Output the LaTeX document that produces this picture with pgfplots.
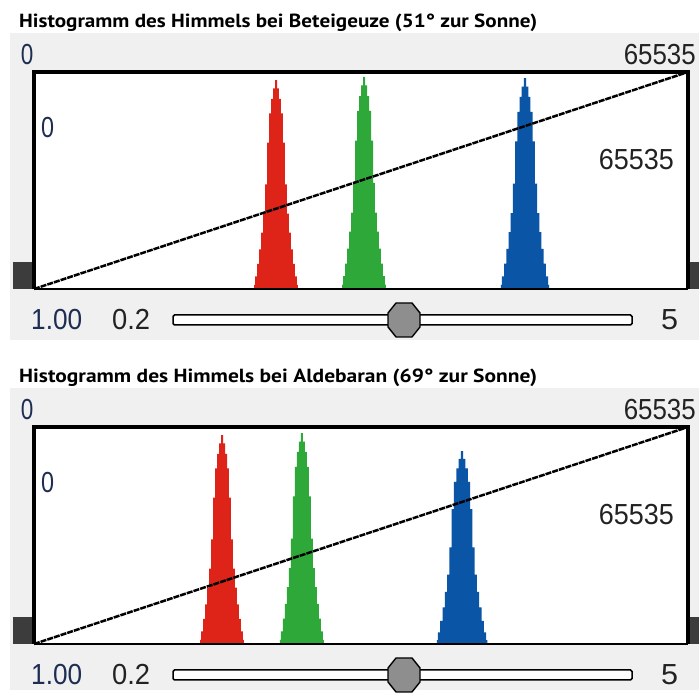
\documentclass[border=0pt]{standalone}
\usepackage{pgfplots}
\pgfplotsset{compat=1.18}
\usepackage{fontspec}
\setmainfont{Liberation Sans}
\newfontfamily\titlefont{PT Sans}
\definecolor{panel}{HTML}{F0F0F0}
\definecolor{hred}{HTML}{DE2318}
\definecolor{hgreen}{HTML}{2FA83A}
\definecolor{hblue}{HTML}{0A55A6}
\definecolor{digitnavy}{HTML}{1E2E52}
\definecolor{digitdark}{HTML}{222222}
\definecolor{squaregray}{HTML}{3C3C3C}
\definecolor{knobgray}{HTML}{8E8E8E}

\pgfplotsset{
  histo/.style={scale only axis, width=654pt, height=217pt,
    xmin=0, xmax=65535, ymin=0, ymax=1, ticks=none,
    axis line style={draw=none},
    axis background/.style={fill=white}, anchor=south west, clip=false},
  peak/.style={draw=none, const plot mark mid, forget plot},
  diag/.style={black, line width=2.5pt, dash pattern=on 6pt off 1pt},
}
\newcommand{\digits}[2]{\fontsize{29pt}{30pt}\selectfont\resizebox{#1}{\height}{#2}}
\newcommand{\frameit}{%
  \draw[black, line width=2.6pt] (rel axis cs:0,0) -- (rel axis cs:1,0);
  \draw[black, line width=3.2pt] (rel axis cs:0,0) -- (rel axis cs:0,1) -- (rel axis cs:1,1) -- (rel axis cs:1,0);}

% ---- top panel (Beteigeuze) ----
\pgfplotstableread{
x y
22050 0.019
22250 0.058
22450 0.116
22650 0.183
22850 0.260
23050 0.347
23250 0.482
23450 0.674
23650 0.809
23850 0.876
24050 0.924
24250 0.963
24450 0.924
24650 0.876
24850 0.809
25050 0.674
25250 0.482
25450 0.347
25650 0.260
25850 0.183
26050 0.116
26250 0.058
26450 0.019
}\topred
\pgfplotstableread{
x y
30870 0.020
31070 0.059
31270 0.117
31470 0.186
31670 0.264
31870 0.352
32070 0.489
32270 0.684
32470 0.821
32670 0.889
32870 0.938
33070 0.977
33270 0.938
33470 0.889
33670 0.821
33870 0.684
34070 0.489
34270 0.352
34470 0.264
34670 0.186
34870 0.117
35070 0.059
35270 0.020
}\topgreen
\pgfplotstableread{
x y
46780 0.019
47000 0.058
47220 0.117
47440 0.185
47660 0.262
47880 0.350
48100 0.486
48320 0.680
48540 0.816
48760 0.885
48980 0.933
49200 0.972
49420 0.933
49640 0.885
49860 0.816
50080 0.680
50300 0.486
50520 0.350
50740 0.262
50960 0.185
51180 0.117
51400 0.058
51620 0.019
}\topblue
% ---- bottom panel (Aldebaran) ----
\pgfplotstableread{
x y
16640 0.019
16840 0.058
17040 0.116
17240 0.183
17440 0.260
17640 0.347
17840 0.482
18040 0.674
18240 0.809
18440 0.876
18640 0.924
18840 0.963
19040 0.924
19240 0.876
19440 0.809
19640 0.674
19840 0.482
20040 0.347
20240 0.260
20440 0.183
20640 0.116
20840 0.058
21040 0.019
}\botred
\pgfplotstableread{
x y
24650 0.019
24850 0.058
25050 0.117
25250 0.185
25450 0.262
25650 0.350
25850 0.486
26050 0.680
26250 0.816
26450 0.885
26650 0.933
26850 0.972
27050 0.933
27250 0.885
27450 0.816
27650 0.680
27850 0.486
28050 0.350
28250 0.262
28450 0.185
28650 0.117
28850 0.058
29050 0.019
}\botgreen
\pgfplotstableread{
x y
40360 0.018
40590 0.053
40820 0.107
41050 0.169
41280 0.240
41510 0.320
41740 0.445
41970 0.622
42200 0.747
42430 0.809
42660 0.853
42890 0.889
43120 0.853
43350 0.809
43580 0.747
43810 0.622
44040 0.445
44270 0.320
44500 0.240
44730 0.169
44960 0.107
45190 0.053
45420 0.018
}\botblue
\pgfplotstableread{
x y
0 0
65535 1
}\curve

\begin{document}
\begin{tikzpicture}
\fill[white] (0pt,0pt) rectangle (699pt,690pt);
% panels
\fill[panel] (10pt,350pt) rectangle (699pt,657pt);
\fill[panel] (10pt,0pt) rectangle (699pt,302pt);

% titles
\node[anchor=base west, inner sep=0pt] at (19pt,662pt)
  {\titlefont\fontsize{19pt}{20pt}\selectfont\bfseries\resizebox{518pt}{\height}{Histogramm des Himmels bei Beteigeuze (51° zur Sonne)}};
\node[anchor=base west, inner sep=0pt] at (19pt,307pt)
  {\titlefont\fontsize{19pt}{20pt}\selectfont\bfseries\resizebox{518pt}{\height}{Histogramm des Himmels bei Aldebaran (69° zur Sonne)}};

% dark squares
\fill[squaregray] (13pt,401pt) rectangle (34pt,428pt);
\fill[squaregray] (689pt,401pt) rectangle (699pt,428pt);
\fill[squaregray] (13pt,46pt) rectangle (34pt,73pt);
\fill[squaregray] (689pt,46pt) rectangle (699pt,73pt);

% top axis
\begin{axis}[histo, at={(34pt,401pt)}]
\addplot[peak, fill=hred] table {\topred} \closedcycle;
\addplot[peak, fill=hgreen] table {\topgreen} \closedcycle;
\addplot[peak, fill=hblue] table {\topblue} \closedcycle;
\addplot[diag] table {\curve};
\frameit
\end{axis}

% bottom axis
\begin{axis}[histo, at={(34pt,46pt)}]
\addplot[peak, fill=hred] table {\botred} \closedcycle;
\addplot[peak, fill=hgreen] table {\botgreen} \closedcycle;
\addplot[peak, fill=hblue] table {\botblue} \closedcycle;
\addplot[diag] table {\curve};
\frameit
\end{axis}

% labels and sliders for both panels
\foreach \dy in {0,355} {
  \begin{scope}[yshift=-\dy pt]
  \node[anchor=base, inner sep=0pt, text=digitnavy] at (27pt,625pt) {\digits{12.5pt}{0}};
  \node[anchor=base east, inner sep=0pt, text=digitdark] at (696pt,625pt) {\digits{72pt}{65535}};
  \node[anchor=base west, inner sep=0pt, text=digitnavy] at (41pt,552pt) {\digits{13pt}{0}};
  \node[anchor=base east, inner sep=0pt, text=digitdark] at (674pt,520pt) {\digits{75pt}{65535}};
  \node[anchor=base west, inner sep=0pt, text=digitnavy] at (31pt,360pt) {\digits{51pt}{1.00}};
  \node[anchor=base west, inner sep=0pt, text=digitdark] at (112pt,360pt) {\digits{38pt}{0.2}};
  \node[anchor=base west, inner sep=0pt, text=digitdark] at (661pt,360pt) {\digits{17pt}{5}};
  \draw[black, line width=1.5pt, fill=white, rounded corners=1.5pt] (173pt,365pt) rectangle (632pt,375pt);
  \draw[black, line width=1.4pt, fill=knobgray]
    (388pt,363pt) -- (388pt,377pt) -- (396pt,387pt) -- (412pt,387pt) -- (420pt,377pt)
    -- (420pt,363pt) -- (412pt,353pt) -- (396pt,353pt) -- cycle;
  \end{scope}
}
\end{tikzpicture}
\end{document}
